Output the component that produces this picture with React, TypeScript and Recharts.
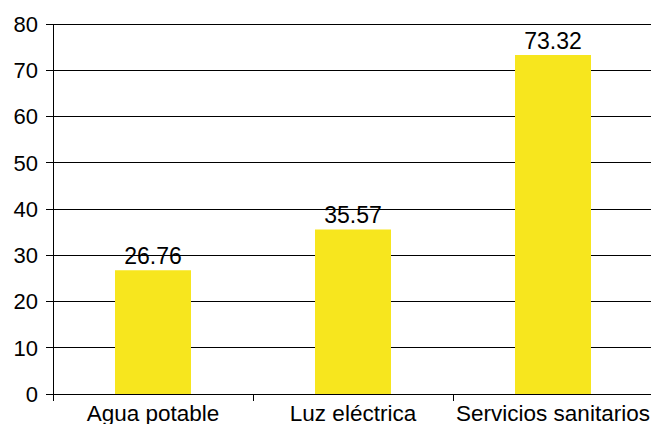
import React from 'react';
import { BarChart, Bar, XAxis, YAxis, CartesianGrid, LabelList } from 'recharts';

const categories = ['Agua potable', 'Luz eléctrica', 'Servicios sanitarios'];
const values = [26.76, 35.57, 73.32];
const yTicks = [0, 10, 20, 30, 40, 50, 60, 70, 80];

const data = categories.map((name, i) => ({ name, value: values[i] }));

const CHART_W = 655;
const CHART_H = 424;
const Y_W = 53;
const M_RIGHT = 2;
const BAND = (CHART_W - Y_W - M_RIGHT) / categories.length;
const FONT = '"Liberation Sans", Arial, sans-serif';

const XTick = (props: any) => {
  const { x, y, payload, index } = props;
  const axisY = y - 11;
  return (
    <g>
      {index === 0 ? (
        <line x1={x - BAND / 2} x2={x - BAND / 2} y1={axisY} y2={axisY + 7} stroke="#000" shapeRendering="crispEdges" />
      ) : null}
      <line x1={x + BAND / 2} x2={x + BAND / 2} y1={axisY} y2={axisY + 7} stroke="#000" shapeRendering="crispEdges" />
      <text x={x} y={y} dy="0.71em" textAnchor="middle" fill="#000" fontSize={22.5} fontFamily={FONT}>
        {payload.value}
      </text>
    </g>
  );
};

export default function App() {
  return (
    <div style={{ position: 'absolute', left: 0, top: 0, width: 651, height: 424, overflow: 'hidden', background: '#fff' }}>
      <BarChart
        width={CHART_W}
        height={CHART_H}
        data={data}
        margin={{ top: 24, right: M_RIGHT, bottom: 0, left: 0 }}
        barCategoryGap={0}
      >
        <CartesianGrid vertical={false} stroke="#000" shapeRendering="crispEdges" />
        <XAxis
          dataKey="name"
          height={30}
          tickLine={false}
          tickSize={7}
          tickMargin={4}
          axisLine={{ stroke: '#000', shapeRendering: 'crispEdges' }}
          tick={<XTick />}
          interval={0}
        />
        <YAxis
          width={Y_W}
          domain={[0, 80]}
          ticks={yTicks}
          interval={0}
          tickSize={7}
          tickMargin={8}
          tickLine={{ stroke: '#000', shapeRendering: 'crispEdges' }}
          axisLine={{ stroke: '#000', shapeRendering: 'crispEdges' }}
          tick={{ fill: '#000', fontSize: 22, fontFamily: FONT }}
        />
        <Bar dataKey="value" fill="#F7E61E" barSize={76} isAnimationActive={false}>
          <LabelList
            dataKey="value"
            position="top"
            offset={6}
            fill="#000"
            fontSize={23}
            fontFamily={FONT}
          />
        </Bar>
      </BarChart>
    </div>
  );
}
